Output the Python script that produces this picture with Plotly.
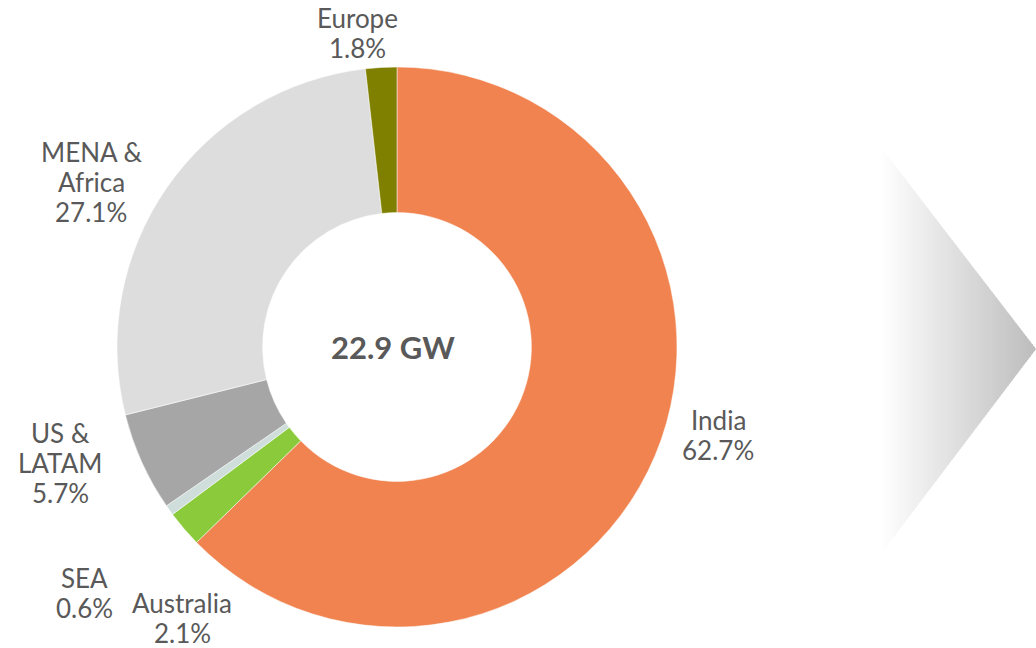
import plotly.graph_objects as go

W, H = 1036, 648

# Capacity share by region (%)
regions = ["India", "Australia", "SEA", "US &<br>LATAM", "MENA &<br>Africa", "Europe"]
shares = [62.7, 2.1, 0.6, 5.7, 27.1, 1.8]
colors = ["#F0834F", "#8BCB3B", "#CFDEDB", "#A6A6A6", "#DDDDDD", "#808000"]
total_label = "22.9 GW"

# first-line centre of each label in pixels (manually placed like the source)
label_pos = [(718, 420), (182, 603), (84, 578), (60, 433), (91, 152), (357, 18)]
LINE_H = 30

TEXT = "#595959"
FONT = "Lato"


def px(x, y):
    return x / W, 1 - y / H


cx, cy, r = 397, 347, 280
x0, y1 = px(cx - r, cy - r)
x1, y0 = px(cx + r, cy + r)

fig = go.Figure()
fig.add_trace(
    go.Pie(
        labels=[n.replace("<br>", " ") for n in regions],
        values=shares,
        sort=False,
        direction="clockwise",
        rotation=0,
        hole=0.48,
        marker=dict(colors=colors, line=dict(color="white", width=0.5)),
        textinfo="none",
        hoverinfo="label+percent",
        domain=dict(x=[x0, x1], y=[y0, y1]),
        showlegend=False,
    )
)

annotations = []
for name, val, (lx, ly) in zip(regions, shares, label_pos):
    lines = name.split("<br>") + [f"{val:.1f}%"]
    for k, line in enumerate(lines):
        ax, ay = px(lx, ly + k * LINE_H)
        annotations.append(
            dict(
                text=line,
                x=ax, y=ay, xref="paper", yref="paper",
                xanchor="center", yanchor="middle",
                showarrow=False,
                font=dict(family=FONT, size=26, color=TEXT),
            )
        )

tx, ty = px(cx - 4, cy)
annotations.append(
    dict(
        text=f"<b>{total_label}</b>",
        x=tx, y=ty, xref="paper", yref="paper",
        showarrow=False,
        font=dict(family=FONT, size=31, color=TEXT),
    )
)

# gradient chevron on the right, built from thin vertical strips
shapes = []
apex_x, apex_y = 1036, 349
left_x, n = 860, 88
step = (apex_x - left_x) / n


def top(x):
    return apex_y - (apex_x - x) * 1.3


def bot(x):
    return apex_y + (apex_x - x) * 1.32


for i in range(n):
    xa = left_x + i * step
    xb = xa + step + 0.6
    t = max(0.0, min(1.0, (xa - 880) / (apex_x - 880)))
    g = int(round(255 - t * (255 - 188)))
    pts = [(xa, top(xa)), (xb, top(xb)), (xb, bot(xb)), (xa, bot(xa))]
    path = "M " + " L ".join(f"{px(a, b)[0]:.5f},{px(a, b)[1]:.5f}" for a, b in pts) + " Z"
    shapes.append(
        dict(type="path", xref="paper", yref="paper", path=path,
             fillcolor=f"rgb({g},{g},{g})", line=dict(width=0), layer="below")
    )

fig.update_layout(
    width=W,
    height=H,
    margin=dict(l=0, r=0, t=0, b=0),
    paper_bgcolor="white",
    plot_bgcolor="white",
    annotations=annotations,
    shapes=shapes,
)

fig.write_html(
    "out.html",
    config={"displayModeBar": False},
    post_script="document.body.style.margin='0';",
)
